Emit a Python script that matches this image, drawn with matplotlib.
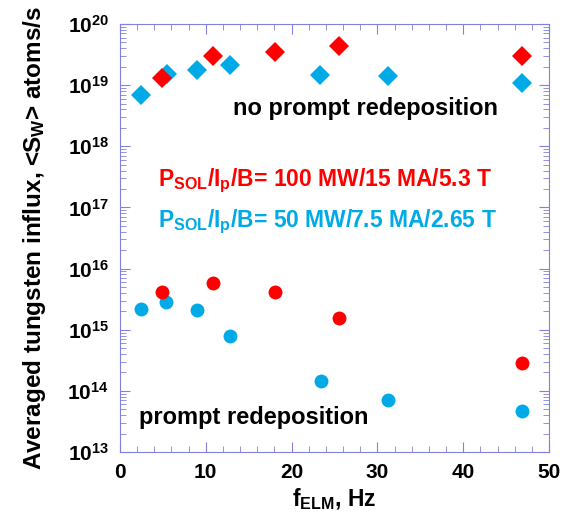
import numpy as np
import matplotlib.pyplot as plt
from matplotlib.ticker import MultipleLocator, FixedLocator, NullFormatter


# Без мгновенного переосаждения (ромбы)
f_blue_d = [2.4, 5.5, 9.0, 12.8, 23.3, 31.2, 46.8]
s_blue_d = [6.8e18, 1.5e19, 1.77e19, 2.1e19, 1.45e19, 1.4e19, 1.07e19]
f_red_d = [4.9, 10.8, 18.1, 25.5, 46.8]
s_red_d = [1.33e19, 3.0e19, 3.5e19, 4.3e19, 3.0e19]

# С мгновенным переосаждением (круги)
f_blue_c = [2.4, 5.4, 9.0, 12.8, 23.4, 31.2, 46.8]
s_blue_c = [2.15e15, 2.85e15, 2.1e15, 7.9e14, 1.45e14, 7.1e13, 4.7e13]
f_red_c = [4.9, 10.8, 18.1, 25.5, 46.8]
s_red_c = [4.2e15, 5.7e15, 4.2e15, 1.57e15, 2.9e14]

red = '#ff0000'
blue = '#00aae6'
axcol = '#8080e0'

plt.rcParams['font.family'] = 'Liberation Sans'
plt.rcParams['font.weight'] = 'bold'
plt.rcParams['mathtext.fontset'] = 'custom'
plt.rcParams['mathtext.rm'] = 'Liberation Sans:bold'
plt.rcParams['mathtext.it'] = 'Liberation Sans:bold'
plt.rcParams['mathtext.bf'] = 'Liberation Sans:bold'

fig = plt.figure(figsize=(5.67, 5.2), dpi=100)
ax = fig.add_axes([120 / 567, 1 - 452 / 520, 429 / 567, 428 / 520])

ax.plot(f_blue_d, s_blue_d, 'D', color=blue, ms=10.5, mew=0)
ax.plot(f_red_d, s_red_d, 'D', color=red, ms=10.5, mew=0)
ax.plot(f_blue_c, s_blue_c, 'o', color=blue, ms=10, mew=0)
ax.plot(f_red_c, s_red_c, 'o', color=red, ms=10, mew=0)

ax.set_yscale('log')
ax.set_xlim(0, 50)
ax.set_ylim(1e13, 1e20)
ax.xaxis.set_major_locator(MultipleLocator(10))
ax.xaxis.set_minor_locator(MultipleLocator(2))
decades = [10.0 ** k for k in range(13, 21)]
ax.yaxis.set_major_locator(FixedLocator(decades))
ax.yaxis.set_minor_locator(FixedLocator([m * d for d in decades[:-1] for m in range(2, 10)]))
ax.yaxis.set_minor_formatter(NullFormatter())

for sp in ax.spines.values():
    sp.set_color(axcol)
ax.tick_params(which='both', direction='in', top=True, right=True, color=axcol,
               labelsize=15, pad=8)
ax.tick_params(which='major', length=7)
ax.tick_params(which='minor', length=4)

ax.set_xlabel('f$_{ELM}$, Hz', fontsize=16.5, fontweight='bold', labelpad=3)
ax.set_ylabel('Averaged tungsten influx, <S$_W$> atoms/s', fontsize=17.5,
              fontweight='bold', labelpad=14)

ax.text(0.263, 0.787, 'no prompt redeposition', fontsize=17, fontweight='bold',
        transform=ax.transAxes)
ax.text(0.089, 0.621, 'P$_{SOL}$/I$_p$/B= 100 MW/15 MA/5.3 T', color=red,
        fontsize=16.5, transform=ax.transAxes)
ax.text(0.089, 0.526, 'P$_{SOL}$/I$_p$/B= 50 MW/7.5 MA/2.65 T', color=blue,
        fontsize=16.5, transform=ax.transAxes)
ax.text(0.044, 0.065, 'prompt redeposition', fontsize=17, fontweight='bold',
        transform=ax.transAxes)

plt.savefig('out.png', dpi=100)
